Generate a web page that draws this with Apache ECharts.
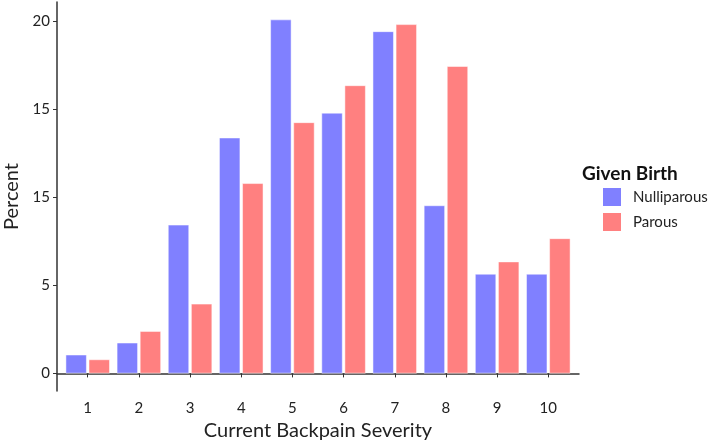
<!DOCTYPE html>
<html>
<head>
<meta charset="utf-8">
<script src="https://cdn.jsdelivr.net/npm/echarts@6/dist/echarts.min.js"></script>
<style>html,body{margin:0;padding:0;background:#fff}#c{width:708px;height:441px}</style>
</head>
<body>
<div id="c"></div>
<script>
const categories = [1, 2, 3, 4, 5, 6, 7, 8, 9, 10];
const nulliparous = [1.06, 1.74, 8.44, 13.39, 20.1, 14.8, 19.43, 9.54, 5.65, 5.65];
const parous = [0.79, 2.40, 3.95, 10.8, 14.26, 16.36, 19.83, 17.45, 6.35, 7.67];
const yTickValues = [0, 5, 10, 15, 20];
const yTickLabels = ['0', '5', '15', '15', '20'];
const seriesNames = ['Nulliparous', 'Parous'];
const legendTitle = 'Given Birth';
const xTitle = 'Current Backpain Severity';
const yTitle = 'Percent';

const font = 'Lato';
const chart = echarts.init(document.getElementById('c'), null, {renderer: 'canvas'});
const pair = (vals) => categories.map((c, i) => [c, vals[i]]);
chart.setOption({
  animation: false,
  backgroundColor: '#fff',
  textStyle: {fontFamily: font},
  title: {
    text: legendTitle, left: 582, top: 164, padding: 0,
    textStyle: {fontFamily: font, fontWeight: 'bold', fontSize: 19, color: '#111'}
  },
  legend: {
    orient: 'vertical', left: 601, top: 186, padding: 0, width: 107,
    itemWidth: 20, itemHeight: 20, itemGap: 3,
    icon: 'rect',
    textStyle: {fontFamily: font, fontSize: 15, color: '#222', padding: [0, 0, 0, 6], overflow: 'none'},
    data: seriesNames
  },
  grid: {left: 57, right: 129, top: 2, bottom: 50, outerBoundsMode: 'none', containLabel: false},
  xAxis: {
    type: 'value', min: 0.4, max: 10.6,
    splitLine: {show: false},
    axisLine: {show: true, lineStyle: {color: '#333', width: 1.5}},
    axisTick: {show: true, length: 4, lineStyle: {color: '#333'}, customValues: categories},
    axisLabel: {customValues: categories, fontSize: 15, color: '#222', margin: 10, fontFamily: font},
    name: xTitle, nameLocation: 'middle', nameGap: 29,
    nameTextStyle: {fontSize: 20, color: '#222', fontFamily: font}
  },
  yAxis: {
    type: 'value', min: -1, max: 21.1,
    splitLine: {show: false},
    axisLine: {show: true, lineStyle: {color: '#333', width: 1.5}},
    axisTick: {show: true, length: 4, lineStyle: {color: '#333'}, customValues: yTickValues},
    axisLabel: {
      customValues: yTickValues, fontSize: 15, color: '#222', margin: 7, fontFamily: font,
      formatter: (v) => { const i = yTickValues.indexOf(v); return i >= 0 ? yTickLabels[i] : ''; }
    },
    name: yTitle, nameLocation: 'middle', nameGap: 35,
    nameTextStyle: {fontSize: 20, color: '#222', fontFamily: font}
  },
  series: [
    {
      name: seriesNames[0], type: 'bar', data: pair(nulliparous),
      barWidth: 21, barGap: '10%',
      itemStyle: {color: '#8080ff', borderColor: '#ffffff', borderWidth: 0.5}
    },
    {
      name: seriesNames[1], type: 'bar', data: pair(parous),
      barWidth: 21, barGap: '10%',
      itemStyle: {color: '#ff8080', borderColor: '#ffffff', borderWidth: 0.5}
    }
  ]
});
</script>
</body>
</html>
